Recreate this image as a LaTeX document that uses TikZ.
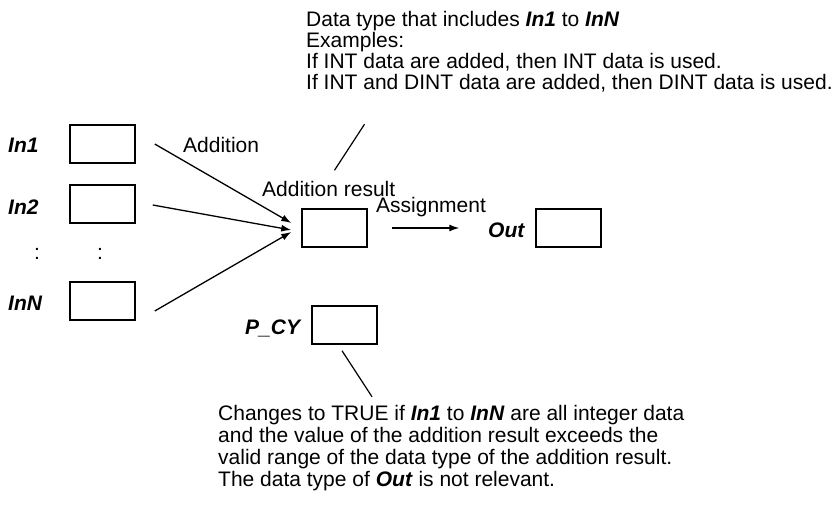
\documentclass[tikz,border=0pt]{standalone}
\usepackage{fontspec}
\setmainfont{Liberation Sans}
\usetikzlibrary{arrows.meta,calc}
\newcommand{\vname}[1]{\textbf{\textit{#1}}}

\begin{document}
\begin{tikzpicture}[
  x=1pt, y=-1pt,
  font=\fontsize{21}{21.5}\selectfont,
  cell/.style={
    draw=black,
    line width=1.5pt,
    minimum width=65pt,
    minimum height=38pt,
    inner sep=0pt
  },
  txt/.style={inner sep=0pt},
  flow/.style={line width=1.3pt, -{Latex[length=10pt,width=7pt]}},
  lead/.style={line width=1.2pt}
]
\useasboundingbox (0,0) rectangle (838,505);

% -------- Inputs --------
\node[cell] (in1box) at (102.5,144) {};
\node[cell] (in2box) at (102.5,204) {};
\node[cell] (innbox) at (102.5,301) {};
\node[txt, anchor=base west] (in1lbl) at (8,152.5) {\vname{In1}};
\node[txt, anchor=base west] (in2lbl) at (8,214.5) {\vname{In2}};
\node[txt, anchor=base west] (innlbl) at (8,310.5) {\vname{InN}};
\node[txt, anchor=base] (dotsa) at (37,259) {:};
\node[txt, anchor=base] (dotsb) at (100,259) {:};

% -------- Addition --------
\node[cell] (resbox) at (334.5,228) {};
\node[txt, anchor=base west] (addlbl) at (183,152.5) {Addition};
\node[txt, anchor=base west] (reslbl) at (262,196.5) {Addition result};
\draw[flow] ([xshift=19pt]in1box.east) -- ([xshift=-10pt,yshift=5pt]resbox.west);
\draw[flow] ([xshift=17pt,yshift=-1pt]in2box.east) -- ([xshift=-10pt,yshift=-2pt]resbox.west);
\draw[flow] ([xshift=19pt,yshift=-10pt]innbox.east) -- ([xshift=-10pt,yshift=-4pt]resbox.west);

% -------- Assignment --------
\node[cell] (outbox) at (568.5,228) {};
\node[txt, anchor=base west] (outlbl) at (488,237.5) {\vname{Out}};
\node[txt, anchor=base west] (asglbl) at (376,213) {Assignment};
\draw[flow] ([xshift=24pt]resbox.east) -- ([xshift=-76pt]outbox.west);

% -------- Carry flag --------
\node[cell] (pcybox) at (344.5,325) {};
\node[txt, anchor=base west] (pcylbl) at (245,334) {\vname{P\_CY}};

% -------- Notes --------
\node[txt, anchor=north west, align=left, font=\fontsize{21}{21}\selectfont] (typenote) at (306,11)
{Data type that includes \vname{In1} to \vname{InN}\\
Examples:\\
If INT data are added, then INT data is used.\\
If INT and DINT data are added, then DINT data is used.};
\draw[lead] ([yshift=38pt]resbox.north) -- ([xshift=30pt,yshift=84pt]resbox.north);

\node[txt, anchor=north west, align=left, font=\fontsize{21}{21.7}\selectfont] (cynote) at (218,405.5)
{Changes to TRUE if \vname{In1} to \vname{InN} are all integer data\\
and the value of the addition result exceeds the\\
valid range of the data type of the addition result.\\
The data type of \vname{Out} is not relevant.};
\draw[lead] ([xshift=-2.5pt,yshift=-6pt]pcybox.south) -- ([xshift=27.5pt,yshift=-52pt]pcybox.south);

\end{tikzpicture}
\end{document}
